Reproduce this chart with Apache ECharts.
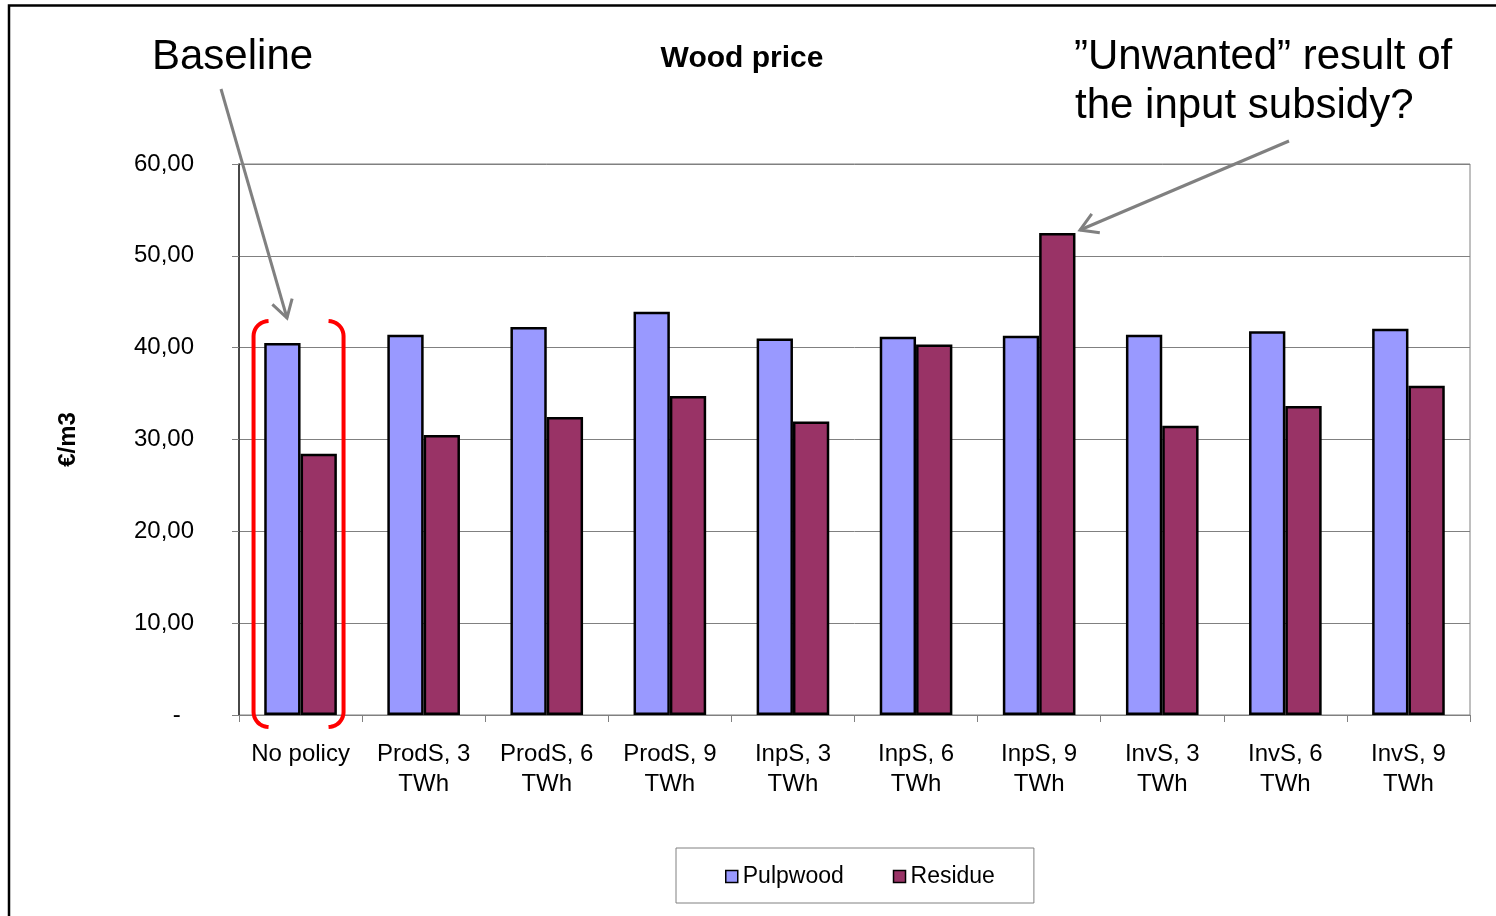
<!DOCTYPE html>
<html>
<head>
<meta charset="utf-8">
<title>Wood price</title>
<script src="https://cdn.jsdelivr.net/npm/echarts@6/dist/echarts.min.js"></script>
<style>
html, body { margin: 0; padding: 0; background: #fff; }
#chart { width: 1496px; height: 916px; }
</style>
</head>
<body>
<div id="chart"></div>
<script>
// x axis categories
var categories = [
  'No policy', 'ProdS, 3\nTWh', 'ProdS, 6\nTWh', 'ProdS, 9\nTWh',
  'InpS, 3\nTWh', 'InpS, 6\nTWh', 'InpS, 9\nTWh',
  'InvS, 3\nTWh', 'InvS, 6\nTWh', 'InvS, 9\nTWh'
];
// €/m3
var pulpwood = [40.5, 41.4, 42.25, 43.9, 41.0, 41.2, 41.3, 41.4, 41.8, 42.05];
var residue  = [28.45, 30.5, 32.45, 34.75, 31.95, 40.35, 52.5, 31.5, 33.65, 35.85];
// y tick labels (excel style, zero shown as a dash)
var yTickLabels = ['-  ', '10,00', '20,00', '30,00', '40,00', '50,00', '60,00'];

var FONT = '"Liberation Sans", Arial, sans-serif';

var chart = echarts.init(document.getElementById('chart'));

var option = {
  backgroundColor: '#fff',
  animation: false,
  textStyle: { fontFamily: FONT },
  grid: {
    left: 239,
    right: 26,
    top: 164,
    bottom: 201,
    show: true,
    borderColor: '#808080',
    borderWidth: 1,
    containLabel: false
  },
  legend: {
    data: ['Pulpwood', 'Residue'],
    left: 676,
    top: 848,
    padding: [17, 39, 15, 49],
    itemGap: 49,
    itemWidth: 12,
    itemHeight: 12,
    icon: 'rect',
    borderColor: '#808080',
    borderWidth: 1,
    itemStyle: { borderColor: '#000', borderWidth: 1.5 },
    textStyle: { fontSize: 23, color: '#000', fontFamily: FONT }
  },
  xAxis: {
    type: 'category',
    data: categories,
    axisLine: { lineStyle: { color: '#808080', width: 1 } },
    axisTick: { show: true, length: 7, lineStyle: { color: '#808080' } },
    axisLabel: {
      interval: 0,
      margin: 24,
      fontSize: 24,
      lineHeight: 30,
      color: '#000',
      fontFamily: FONT
    },
    splitLine: { show: false }
  },
  yAxis: {
    type: 'value',
    min: 0,
    max: 60,
    interval: 10,
    name: '€/m3',
    nameLocation: 'middle',
    nameRotate: 90,
    nameGap: 159,
    nameTextStyle: { fontSize: 24, fontWeight: 'bold', color: '#000', fontFamily: FONT },
    axisLine: { show: true, lineStyle: { color: '#202020', width: 1.5 } },
    axisTick: { show: true, length: 7, lineStyle: { color: '#808080' } },
    axisLabel: {
      margin: 45,
      fontSize: 24,
      color: '#000',
      fontFamily: FONT,
      padding: [3, 0, 0, 0],
      formatter: function (v) { return yTickLabels[Math.round(v / 10)]; }
    },
    splitLine: { show: true, lineStyle: { color: '#808080', width: 1 } }
  },
  series: [
    {
      name: 'Pulpwood',
      type: 'bar',
      data: pulpwood,
      barGap: '0%',
      barCategoryGap: '41%',
      itemStyle: { color: '#9999FF', borderColor: '#000', borderWidth: 2.5 }
    },
    {
      name: 'Residue',
      type: 'bar',
      data: residue,
      itemStyle: { color: '#993366', borderColor: '#000', borderWidth: 2.5 }
    }
  ]
};

chart.setOption(option);

// open arrow, line + V head
function arrow(x1, y1, x2, y2) {
  var a = Math.atan2(y2 - y1, x2 - x1), L = 20, s = 0.54;
  return {
    type: 'group',
    z: 100,
    children: [
      { type: 'line', shape: { x1: x1, y1: y1, x2: x2, y2: y2 },
        style: { stroke: '#808080', lineWidth: 3 } },
      { type: 'polyline',
        shape: { points: [
          [x2 - L * Math.cos(a - s), y2 - L * Math.sin(a - s)],
          [x2, y2],
          [x2 - L * Math.cos(a + s), y2 - L * Math.sin(a + s)]
        ] },
        style: { stroke: '#808080', lineWidth: 3, fill: null } }
    ]
  };
}

// bracket as polyline: stub, rounded corner, vertical, rounded corner, stub
// dir = 1 opens to the right (left bracket), -1 opens to the left
function bracket(x, t, b, dir, k) {
  var pts = [], i, ang;
  for (i = 0; i <= 10; i++) {
    ang = Math.PI / 2 * i / 10;
    pts.push([x + dir * k * (1 - Math.sin(ang)), t + k * (1 - Math.cos(ang))]);
  }
  for (i = 0; i <= 10; i++) {
    ang = Math.PI / 2 * i / 10;
    pts.push([x + dir * k * (1 - Math.cos(ang)), b - k * (1 - Math.sin(ang))]);
  }
  return { type: 'polyline', z: 100, shape: { points: pts },
    style: { fill: null, stroke: '#FF0000', lineWidth: 4, lineJoin: 'round' } };
}

// red bracket round the baseline group
var pTop = chart.convertToPixel({ xAxisIndex: 0, yAxisIndex: 0 }, [0, 43]);
var pBot = chart.convertToPixel({ xAxisIndex: 0, yAxisIndex: 0 }, [0, 0]);
var bl = pTop[0] - 47, br = pTop[0] + 43, bt = pTop[1] + 1, bb = pBot[1] + 12;

chart.setOption({
  graphic: [
    // outer frame
    { type: 'rect', shape: { x: 9, y: 5.5, width: 1700, height: 1000 },
      style: { fill: null, stroke: '#000', lineWidth: 2.5 }, z: 100 },
    { type: 'text', x: 742, y: 58.5, z: 100,
      style: { text: 'Wood price', font: 'bold 30px ' + FONT, fill: '#000', align: 'center', verticalAlign: 'middle' } },
    { type: 'text', x: 152, y: 57, z: 100,
      style: { text: 'Baseline', font: '42px ' + FONT, fill: '#000', align: 'left', verticalAlign: 'middle' } },
    { type: 'text', x: 1074, y: 57.5, z: 100,
      style: { text: '”Unwanted” result of', font: '42px ' + FONT, fill: '#000', align: 'left', verticalAlign: 'middle' } },
    { type: 'text', x: 1075, y: 106.5, z: 100,
      style: { text: 'the input subsidy?', font: '42px ' + FONT, fill: '#000', align: 'left', verticalAlign: 'middle' } },
    arrow(221, 89, 287, 318),
    arrow(1289, 141, 1080, 230),
    bracket(bl, bt, bb, 1, 15),
    bracket(br, bt, bb, -1, 15)
  ]
});
</script>
</body>
</html>
